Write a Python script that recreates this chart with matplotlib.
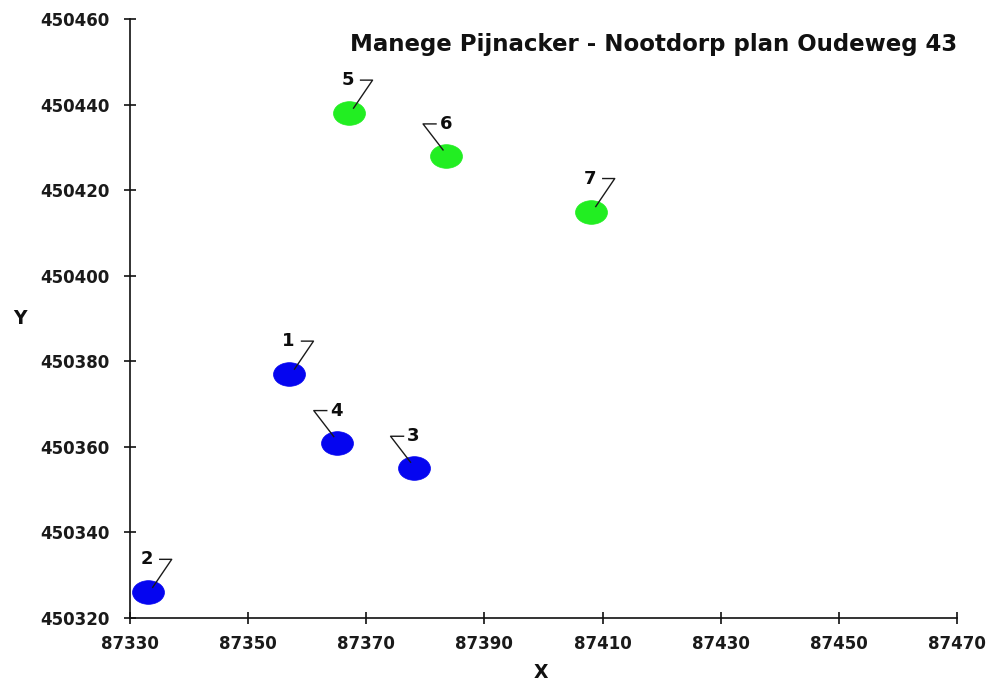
import matplotlib
matplotlib.use('Agg')
import matplotlib.pyplot as plt
import matplotlib.transforms as mtransforms
from matplotlib.path import Path

# ---- data ----
point_ids = ['1', '2', '3', '4', '5', '6', '7']
x_vals = [87357.0, 87333.0, 87378.0, 87365.0, 87367.0, 87383.5, 87408.0]
y_vals = [450377.0, 450326.0, 450355.0, 450361.0, 450438.0, 450428.0, 450415.0]
groups = ['a', 'a', 'a', 'a', 'b', 'b', 'b']
x_ticks = [87330, 87350, 87370, 87390, 87410, 87430, 87450, 87470]
y_ticks = [450320, 450340, 450360, 450380, 450400, 450420, 450440, 450460]
title = 'Manege Pijnacker - Nootdorp plan Oudeweg 43'

# ---- style ----
group_colors = {'a': '#0505f0', 'b': '#22ee22'}
hook_side = ['right', 'right', 'left', 'left', 'right', 'left', 'right']
FONT = 'DejaVu Sans'

fig = plt.figure(figsize=(9.87, 6.82), dpi=100)
ax = fig.add_axes([130 / 987, 1 - 618 / 682, (957 - 130) / 987, (618 - 19) / 682])

ell = Path.unit_circle().transformed(mtransforms.Affine2D().scale(1.35, 1.0))

for gid in ['a', 'b']:
    xs = [x for x, g in zip(x_vals, groups) if g == gid]
    ys = [y for y, g in zip(y_vals, groups) if g == gid]
    ax.plot(xs, ys, linestyle='none', marker=ell, markersize=23,
            markerfacecolor=group_colors[gid], markeredgecolor=group_colors[gid],
            markeredgewidth=0.5, zorder=3, clip_on=False)

hooks = {
    'right': ([5, 24, 12], [5, 33, 33], (-1, 33)),
    'left': ([-3, -23, -10], [6, 32, 32], (0, 32)),
}
for pid, x, y, side in zip(point_ids, x_vals, y_vals, hook_side):
    hx, hy, toff = hooks[side]
    tr = mtransforms.Affine2D() + mtransforms.ScaledTranslation(x, y, ax.transData)
    ax.plot(hx, hy, color='#1a1a1a', lw=1.0, transform=tr, zorder=4, clip_on=False)
    ax.annotate(pid, (x, y), xytext=toff, textcoords='offset pixels',
                ha='center', va='center', fontsize=13, fontweight='bold',
                family=FONT, color='#0d0d0d', zorder=5)

ax.set_xlim(87330, 87470)
ax.set_ylim(450320, 450460)
ax.set_xticks(x_ticks)
ax.set_yticks(y_ticks)
ax.set_xticklabels([str(t) for t in x_ticks])
ax.set_yticklabels([str(t) for t in y_ticks])
for lab in ax.get_xticklabels() + ax.get_yticklabels():
    lab.set_fontfamily(FONT)
    lab.set_fontweight('bold')
    lab.set_fontsize(12)
    lab.set_color('#1a1a1a')

ax.spines['top'].set_visible(False)
ax.spines['right'].set_visible(False)
for s in ['left', 'bottom']:
    ax.spines[s].set_linewidth(1.2)
    ax.spines[s].set_color('#111111')
ax.tick_params(axis='both', direction='inout', length=9, width=1.2, color='#111111')
ax.tick_params(axis='x', pad=8)
ax.tick_params(axis='y', pad=10)

fig.text(654 / 987, 1 - 44 / 682, title, ha='center', va='center',
         fontsize=16.5, fontweight='bold', family=FONT, color='#111111')
fig.text(541 / 987, 1 - 673 / 682, 'X', ha='center', va='center',
         fontsize=13.5, fontweight='bold', family=FONT, color='#111111')
fig.text(20 / 987, 1 - 318 / 682, 'Y', ha='center', va='center',
         fontsize=13.5, fontweight='bold', family=FONT, color='#111111')

fig.savefig('out.png', dpi=100)
